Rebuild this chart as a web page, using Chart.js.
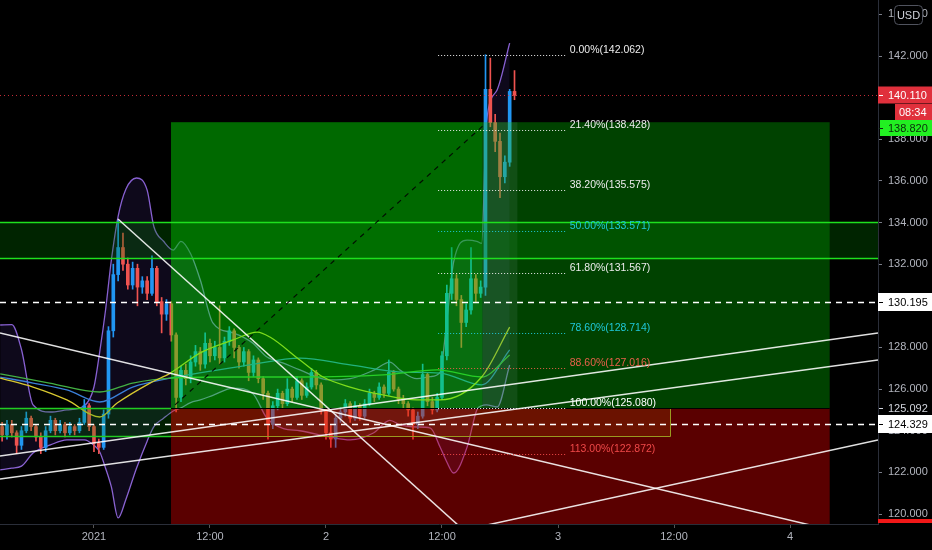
<!DOCTYPE html>
<html><head><meta charset="utf-8">
<script src="https://cdn.jsdelivr.net/npm/chart.js@4"></script>
<style>html,body{margin:0;padding:0;background:#000;overflow:hidden}#wrap{position:relative;width:932px;height:550px}</style>
</head><body><div id="wrap"><canvas id="c"></canvas></div>
<script>
// ---- time axis (hours from 2021-01-01 00:00), 30-min candles ----
const candleStart = -9.5, candleStep = 0.5;
const opens  = [124.2,123.8,124.3,123.9,123.3,124.0,124.6,124.2,123.7,123.2,124.0,124.5,124.0,124.3,123.9,124.2,124.0,124.4,125.2,124.2,123.4,123.2,124.8,128.8,131.5,132.8,132.0,131.0,131.8,130.9,131.2,130.6,131.8,130.2,129.6,130.1,128.6,125.6,126.9,126.5,127.3,127.8,127.2,128.2,127.6,128.0,127.5,128.3,128.8,128.0,127.3,127.8,126.8,127.4,126.5,125.8,124.3,125.2,125.8,125.3,126.0,125.6,126.4,125.7,126.1,126.8,126.2,125.0,123.9,123.6,124.6,124.9,125.3,124.6,125.2,124.7,125.3,125.8,125.6,126.1,125.8,126.8,126.0,125.5,125.3,125.0,124.3,124.7,126.7,125.4,125.0,125.6,127.6,130.6,131.3,130.3,129.2,129.8,131.3,130.6,130.9,140.4,138.8,137.9,136.2,136.9,140.3];
const closes = [123.8,124.3,123.9,123.3,124.0,124.6,124.2,123.7,123.2,124.0,124.5,124.0,124.3,123.9,124.2,124.0,124.4,125.2,124.2,123.4,123.2,124.8,128.8,131.5,132.8,132.0,131.0,131.8,130.9,131.2,130.6,131.8,130.2,129.6,130.1,128.6,125.6,126.9,126.5,127.3,127.8,127.2,128.2,127.6,128.0,127.5,128.3,128.8,128.0,127.3,127.8,126.8,127.4,126.5,125.8,124.3,125.2,125.8,125.3,126.0,125.6,126.4,125.7,126.1,126.8,126.2,125.0,123.9,123.6,124.6,124.9,125.3,124.6,125.2,124.7,125.3,125.8,125.6,126.1,125.8,126.8,126.0,125.5,125.3,125.0,124.3,124.7,126.7,125.4,125.0,125.6,127.6,130.6,131.3,130.3,129.2,129.8,131.3,130.6,130.9,140.4,138.8,137.9,136.2,136.9,140.3,140.11];
const highs  = [124.4,124.5,124.5,124.0,124.2,124.9,124.7,124.3,123.9,124.2,124.7,124.6,124.5,124.4,124.4,124.3,124.6,125.5,125.3,124.3,123.6,125.0,129.0,132.0,134.1,133.5,132.3,132.1,132.0,131.4,131.4,132.4,131.9,130.4,130.3,130.2,128.7,127.1,127.2,127.6,128.1,128.0,128.7,128.4,128.3,130.0,128.5,129.0,128.9,128.1,128.0,127.9,127.6,127.5,126.6,125.9,125.4,126.0,125.9,126.5,126.1,126.6,126.5,126.3,127.0,126.9,126.3,125.1,124.3,124.8,125.1,125.5,125.4,125.4,125.3,125.5,126.0,125.9,126.3,126.2,127.4,126.9,126.1,125.7,125.4,125.1,124.9,127.2,126.8,125.6,125.8,127.8,131.0,132.8,131.5,130.5,130.1,132.8,131.5,131.2,142.06,141.9,139.2,138.3,137.2,140.4,141.3];
const lows   = [123.5,123.6,123.7,122.9,123.1,123.9,124.0,123.5,122.9,123.0,123.9,123.8,123.9,123.7,123.8,123.8,123.9,124.3,124.0,123.0,122.9,123.1,124.6,128.5,131.2,131.7,130.8,130.8,130.0,130.6,130.3,130.5,130.0,128.7,129.3,128.3,124.9,125.4,126.2,126.3,127.1,126.9,127.0,127.3,127.4,127.2,127.3,128.1,127.5,127.0,127.1,126.4,126.6,126.3,125.5,123.6,124.1,125.0,125.1,125.2,125.4,125.5,125.5,125.6,126.0,126.0,124.8,123.6,123.2,123.2,124.4,124.7,124.4,124.5,124.5,124.6,125.2,125.4,125.5,125.6,125.7,125.9,125.3,125.1,124.7,123.6,124.1,124.6,125.2,124.8,124.9,125.5,127.4,130.3,130.0,128.0,129.0,129.6,130.2,130.4,130.5,138.6,137.4,135.2,135.9,136.7,139.9];

// ---- indicators (hour, price) ----
const bbTimes = [-9.7,-8.5,-7.5,-6.3,-4.5,-2.8,-1.0,0.0,0.6,1.2,1.8,2.5,3.3,4.4,5.5,6.2,7.2,8.2,9.0,10.0,11.0,12.3,14.4,16.4,17.9,19.6,21.3,24.4,26.5,28.9,30.6,31.7,33.4,34.8,35.8,36.5,37.2,38.6,39.6,40.1,40.6,41.7,43.0];
const bbUpper = [129.08,129.1,127.9,125.24,124.9,125.0,125.2,126.1,127.8,129.8,132.2,134.3,135.6,136.14,135.56,133.8,133.1,132.68,133.1,132.5,131.24,129.18,128.7,128.22,127.54,127.25,126.92,126.44,126.5,126.9,127.3,126.9,126.5,126.6,126.8,129.3,132.1,133.16,133.1,133.0,138.8,140.37,142.62];
const bbLower = [122.12,122.2,122.3,122.93,123.32,123.56,123.56,123.3,122.98,122.2,121.3,119.81,120.7,122.2,123.5,124.2,124.6,124.95,125.1,125.35,125.48,125.7,126.05,125.8,124.6,124.1,124.0,123.7,123.56,123.89,124.5,124.28,124.18,124.13,123.22,122.5,121.97,123.22,125.0,125.2,125.24,125.14,127.16];
const yellowT = [-9.7,-6.3,-2.8,0.6,2.4,5.8,7.9,11.0,14.4,16.9,18.2,21.3,23.7,26.5,29.9,33.4,35.8,40.1,43.0];
const yellowP = [126.53,126.10,125.48,124.66,125.33,126.29,126.77,127.74,128.36,128.74,128.50,127.40,126.58,126.10,125.72,125.48,125.48,126.58,128.98];
const greenT = [-9.7,-4.6,0.6,4.0,7.9,14.4,21.3,29.9,35.5,40.1,43.0];
const greenP = [126.73,126.29,125.86,126.29,126.53,126.58,126.58,126.68,126.92,126.58,127.64];
const blueT = [-9.7,-6.3,-2.8,0.6,4.0,7.9,16.1,21.3,26.5,31.7,35.8,40.1,43.0];
const blueP = [126.58,126.29,125.96,125.38,126.10,126.53,127.16,127.49,127.16,126.82,126.77,126.20,127.88];

// ---- drawings ----
const position = {start:7.97, split:40.2, lastBar:43.8, end:76.1, entry:125.092, target:138.82, stop:119.0};
const oliveBox = {end:59.6, top:125.092, bottom:123.75};
const leftZone = {end:7.97, top:125.092, bottom:123.75};
const topZone = {top:134.03, bottom:132.30};
const dashedLevels = [130.195, 124.329];
const lastPrice = 140.11;
const countdown = '08:34';
const fibRange = [35.6, 48.9];
const fibPct = [0,21.4,38.2,50,61.8,78.6,88.6,100,113];
const fibPrices = [142.062,138.428,135.575,133.571,131.567,128.714,127.016,125.080,122.872];
const fibColors = ['#ececec','#ececec','#ececec','#1fc8d8','#ececec','#1fc8d8','#e8604a','#ffffff','#f04848'];
const trendLines = [
  [2.48,134.17, 40.0,118.49],
  [-9.72,128.70, 81.1,118.70],
  [-9.72,122.79, 81.1,128.70],
  [-9.72,121.68, 81.1,127.40],
  [36.0,119.0, 81.1,123.56]
];
const dashedDiag = [8.38,125.24, 40.34,138.69];

// ---- axes ----
const xTickValues = [0,12,24,36,48,60,72];
const xTickLabels = ['2021','12:00','2','12:00','3','12:00','4'];
const yTickValues = [120,122,124,126,128,130,132,134,136,138,140,142,144];
const xRange = [-9.72, 81.1];
const yRange = [119.52, 144.69];

const UP = '#2196f3', DOWN = '#ef5350';
const candleT = opens.map((_, i) => candleStart + candleStep * i);
const isUp = i => closes[i] >= opens[i];

const overlay = {
  id: 'overlay',
  afterDatasetsDraw(chart) {
    const {ctx, chartArea: a, scales: {x, y}} = chart;
    const X = v => x.getPixelForValue(v), Y = v => y.getPixelForValue(v);
    const fillR = (t0, p0, t1, p1, c) => { ctx.fillStyle = c; ctx.fillRect(X(t0), Y(p0), X(t1) - X(t0), Y(p1) - Y(p0)); };
    const hline = (t0, t1, p, c, w, dash) => { ctx.beginPath(); ctx.setLineDash(dash || []); ctx.strokeStyle = c; ctx.lineWidth = w; const yy = Math.round(Y(p)) + 0.5; ctx.moveTo(X(t0), yy); ctx.lineTo(X(t1), yy); ctx.stroke(); ctx.setLineDash([]); };
    ctx.save();
    ctx.beginPath(); ctx.rect(a.left, a.top, a.width, a.height); ctx.clip();
    // long position boxes
    fillR(position.start, position.target, position.split, position.entry, 'rgba(0,250,0,0.42)');
    fillR(position.split, position.target, position.end, position.entry, 'rgba(0,200,0,0.33)');
    fillR(position.split, position.target, position.lastBar, position.entry, 'rgba(140,170,170,0.12)');
    fillR(position.start, position.entry, position.end, position.stop, 'rgba(225,0,0,0.40)');
    fillR(position.start, oliveBox.top, oliveBox.end, oliveBox.bottom, 'rgba(200,110,0,0.16)');
    ctx.strokeStyle = '#9a9a20'; ctx.lineWidth = 1;
    ctx.beginPath();
    ctx.moveTo(X(position.start), Math.round(Y(oliveBox.bottom)) + 0.5);
    ctx.lineTo(Math.round(X(oliveBox.end)) + 0.5, Math.round(Y(oliveBox.bottom)) + 0.5);
    ctx.lineTo(Math.round(X(oliveBox.end)) + 0.5, Y(oliveBox.top));
    ctx.stroke();
    hline(position.start, position.end, position.entry, '#000', 1.2);
    // zones
    fillR(xRange[0], leftZone.top, leftZone.end, leftZone.bottom, 'rgba(0,140,0,0.22)');
    hline(xRange[0], leftZone.end, leftZone.top, '#22cc22', 1.5);
    hline(xRange[0], leftZone.end, leftZone.bottom, '#22cc22', 1.5);
    fillR(xRange[0], topZone.top, xRange[1], topZone.bottom, 'rgba(0,130,0,0.28)');
    hline(xRange[0], xRange[1], topZone.top, '#1ee01e', 1.5);
    hline(xRange[0], xRange[1], topZone.bottom, '#1ee01e', 1.5);
    // price lines
    dashedLevels.forEach(p => hline(xRange[0], xRange[1], p, '#ffffff', 1.5, [6, 5]));
    hline(xRange[0], xRange[1], lastPrice, 'rgba(242,54,69,0.8)', 1, [1, 3]);
    // trend lines
    trendLines.forEach(l => { ctx.beginPath(); ctx.strokeStyle = 'rgba(255,255,255,0.88)'; ctx.lineWidth = 1.5; ctx.moveTo(X(l[0]), Y(l[1])); ctx.lineTo(X(l[2]), Y(l[3])); ctx.stroke(); });
    ctx.beginPath(); ctx.setLineDash([5, 5]); ctx.strokeStyle = 'rgba(0,0,0,0.85)'; ctx.lineWidth = 1.2;
    ctx.moveTo(X(dashedDiag[0]), Y(dashedDiag[1])); ctx.lineTo(X(dashedDiag[2]), Y(dashedDiag[3])); ctx.stroke(); ctx.setLineDash([]);
    // fib
    ctx.font = '10.5px "Liberation Sans", Arial, sans-serif'; ctx.textBaseline = 'middle'; ctx.textAlign = 'left';
    fibPrices.forEach((p, i) => {
      hline(fibRange[0], fibRange[1], p, fibColors[i], 1, [1, 2]);
      ctx.fillStyle = fibColors[i];
      ctx.fillText(fibPct[i].toFixed(2) + '%(' + p.toFixed(3) + ')', X(fibRange[1]) + 3, Math.round(Y(p)) - 5);
    });
    ctx.restore();
  },
  afterDraw(chart) {
    const {ctx, chartArea: a, scales: {y}} = chart;
    const Y = v => y.getPixelForValue(v);
    const W = chart.width;
    ctx.save();
    ctx.font = '11px "Liberation Sans", Arial, sans-serif'; ctx.textBaseline = 'middle'; ctx.textAlign = 'left';
    const tagAt = (yy, bg, fg, txt, x0, h) => {
      ctx.fillStyle = bg; ctx.fillRect(x0, yy - h / 2, W - x0, h);
      ctx.fillStyle = fg; ctx.fillText(txt, a.right + 10, yy + 0.5);
      ctx.fillRect(a.right + 1, Math.round(yy), 4, 1);
    };
    // 125.092 plain
    const ye = Math.round(Y(position.entry));
    ctx.fillStyle = '#000'; ctx.fillRect(a.right + 1, ye - 8, W - a.right, 16);
    ctx.fillStyle = '#d1d4dc'; ctx.fillText(position.entry.toFixed(3), a.right + 10, ye + 0.5);
    ctx.fillRect(a.right + 1, ye, 4, 1);
    tagAt(Math.round(Y(dashedLevels[0])), '#ffffff', '#000', dashedLevels[0].toFixed(3), a.right, 18);
    tagAt(Math.round(Y(dashedLevels[1])), '#ffffff', '#000', dashedLevels[1].toFixed(3), a.right, 18);
    // last price + countdown, stacked
    const yl = Math.round(Y(lastPrice));
    tagAt(yl, '#e0303c', '#ffffff', lastPrice.toFixed(3), a.right, 17);
    const yc = yl + 17;
    ctx.fillStyle = '#e0303c'; ctx.fillRect(a.right + 17, yc - 8, W - a.right - 17, 16);
    ctx.fillStyle = '#fff'; ctx.fillText(countdown, a.right + 21, yc + 0.5);
    // target label pushed below the countdown
    const yt = Math.max(Math.round(Y(position.target)), yc + 16);
    tagAt(yt, '#22f022', '#0b2a0b', position.target.toFixed(3), a.right + 2, 16);
    // stop bar at bottom
    ctx.fillStyle = '#f01818'; ctx.fillRect(a.right, Math.round(Y(yRange[0])) - 5, W - a.right, 4);
    // USD box
    ctx.fillStyle = '#000'; ctx.strokeStyle = '#50535e'; ctx.lineWidth = 1;
    ctx.beginPath(); ctx.roundRect(a.right + 16.5, 5.5, 28, 19, 4); ctx.fill(); ctx.stroke();
    ctx.fillStyle = '#d1d4dc'; ctx.textAlign = 'center'; ctx.fillText('USD', a.right + 30.5, 15.5);
    ctx.restore();
  }
};

const lineDs = (label, ts, ps, color, order, extra) => Object.assign({
  type: 'line', label, data: ts.map((t, i) => ({x: t, y: ps[i]})),
  borderColor: color, borderWidth: 1.3, pointRadius: 0, cubicInterpolationMode: 'monotone', fill: false, order
}, extra || {});

const noPad = s => { s.paddingTop = 0; s.paddingBottom = 0; s.paddingLeft = 0; s.paddingRight = 0; };

new Chart(document.getElementById('c'), {
  type: 'bar',
  data: {
    datasets: [
      lineDs('BB upper', bbTimes, bbUpper, '#8a63d2', 10),
      lineDs('BB lower', bbTimes, bbLower, '#8a63d2', 9, {fill: '-1', backgroundColor: 'rgba(110,70,210,0.13)'}),
      {type: 'bar', label: 'wick', data: candleT.map((t, i) => ({x: t, y: [lows[i], highs[i]]})),
        backgroundColor: c => isUp(c.dataIndex) ? UP : DOWN, barThickness: 1, grouped: false, order: 6},
      {type: 'bar', label: 'body', data: candleT.map((t, i) => ({x: t, y: [opens[i], closes[i]]})),
        backgroundColor: c => isUp(c.dataIndex) ? UP : DOWN, barThickness: 3, minBarLength: 1, grouped: false, order: 5},
      lineDs('MA yellow', yellowT, yellowP, '#d8c830', 2),
      lineDs('MA green', greenT, greenP, '#43b043', 3),
      lineDs('MA blue', blueT, blueP, '#3a7fd8', 4)
    ]
  },
  options: {
    responsive: true, maintainAspectRatio: false, animation: false, devicePixelRatio: 1,
    layout: {padding: 0},
    plugins: {legend: {display: false}, tooltip: {enabled: false}},
    scales: {
      x: {
        type: 'linear', min: xRange[0], max: xRange[1], offset: false,
        afterBuildTicks: s => { s.ticks = xTickValues.map(v => ({value: v})); },
        afterFit: s => { s.height = 26; noPad(s); },
        ticks: {callback: (v, i) => xTickLabels[i], color: '#b2b5be', font: {size: 11, family: 'Liberation Sans'}, maxRotation: 0, autoSkip: false, padding: 2},
        grid: {drawOnChartArea: false, offset: false, tickLength: 4, color: '#555'},
        border: {color: '#2a2e39'}
      },
      y: {
        position: 'right', min: yRange[0], max: yRange[1],
        afterBuildTicks: s => { s.ticks = yTickValues.map(v => ({value: v})); },
        afterFit: s => { s.width = 54; noPad(s); },
        ticks: {callback: v => v.toFixed(3), color: '#b2b5be', font: {size: 11, family: 'Liberation Sans'}, padding: 6},
        grid: {drawOnChartArea: false, tickLength: 4, color: '#787b86'},
        border: {color: '#2a2e39'}
      }
    }
  },
  plugins: [overlay]
});
</script></body></html>
